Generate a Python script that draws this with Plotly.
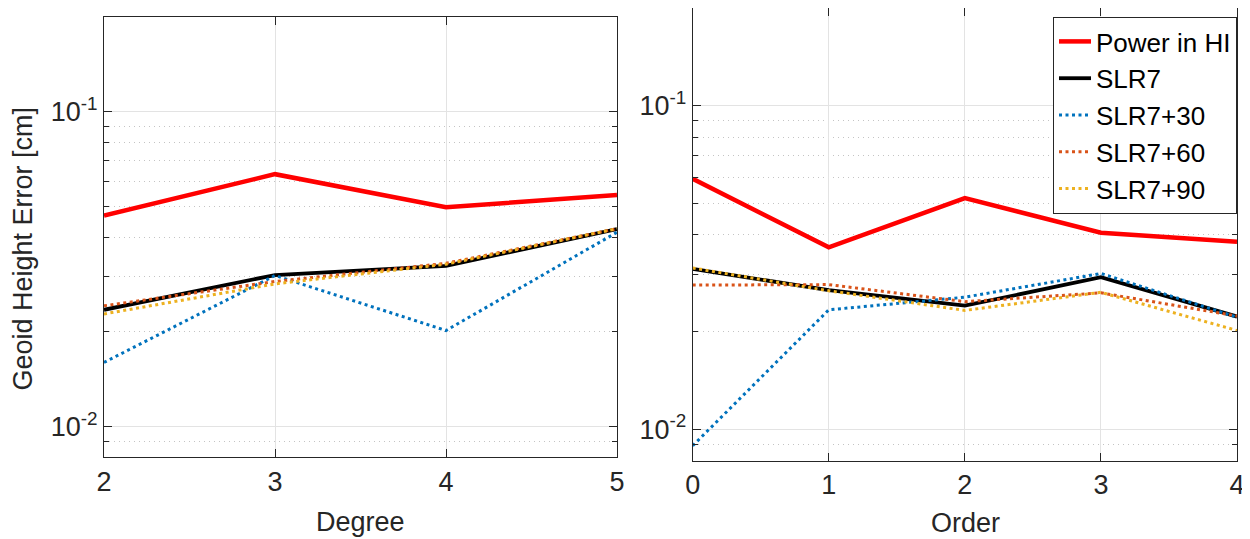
import math
import plotly.graph_objects as go

# ---- data ----
degree = [2, 3, 4, 5]
deg_power = [0.0468, 0.0633, 0.0497, 0.0544]
deg_slr7 = [0.0235, 0.0303, 0.0324, 0.0424]
deg_slr7_30 = [0.0160, 0.0302, 0.0202, 0.0414]
deg_slr7_60 = [0.0242, 0.0289, 0.0330, 0.0425]
deg_slr7_90 = [0.0228, 0.0284, 0.0328, 0.0425]

order = [0, 1, 2, 3, 4]
ord_power = [0.0594, 0.0365, 0.0518, 0.0405, 0.0380]
ord_slr7 = [0.0313, 0.0269, 0.0241, 0.0295, 0.0223]
ord_slr7_30 = [0.0089, 0.0234, 0.0256, 0.0303, 0.0222]
ord_slr7_60 = [0.0279, 0.0280, 0.0248, 0.0264, 0.0224]
ord_slr7_90 = [0.0315, 0.0268, 0.0233, 0.0265, 0.0202]

names = ["Power in HI", "SLR7", "SLR7+30", "SLR7+60", "SLR7+90"]
colors = ["#FF0000", "#000000", "#0072BD", "#D95319", "#EDB120"]
dashes = ["solid", "solid", "3px,3.5px", "3px,3.5px", "3px,3.5px"]
widths = [4.5, 3.8, 3, 3, 3]

y_major = [0.01, 0.1]
y_major_text = ["10<sup>-2</sup>", "10<sup>-1</sup>"]
y_minor = [0.008, 0.009, 0.02, 0.03, 0.04, 0.05, 0.06, 0.07, 0.08, 0.09, 0.2]
y_range = [0.008, 0.2]

FONT = "Liberation Sans, Arial, sans-serif"
FS = 27
TXT = "#262626"

# page offset (body margin) compensation: figure drawn from (8, 8)
OFF = 8
W, H = 1250 - OFF, 539 - OFF


def px(x):
    return min(1.0, max(0.0, (x - OFF) / W))


def py(y):
    return min(1.0, max(0.0, 1 - (y - OFF) / H))


fig = go.Figure()

left = [deg_power, deg_slr7, deg_slr7_30, deg_slr7_60, deg_slr7_90]
right = [ord_power, ord_slr7, ord_slr7_30, ord_slr7_60, ord_slr7_90]

for i in range(5):
    fig.add_trace(go.Scatter(x=degree, y=left[i], mode="lines", name=names[i],
                             line=dict(color=colors[i], width=widths[i], dash=dashes[i]),
                             xaxis="x", yaxis="y", showlegend=False))
for i in range(5):
    fig.add_trace(go.Scatter(x=order, y=right[i], mode="lines", name=names[i],
                             line=dict(color=colors[i], width=widths[i], dash=dashes[i]),
                             xaxis="x2", yaxis="y2", showlegend=True))

axis_common = dict(
    showline=True, linecolor=TXT, linewidth=1, mirror="ticks",
    ticks="inside", ticklen=8, tickcolor=TXT,
    showgrid=True, gridcolor="#e3e3e3", gridwidth=1,
    zeroline=False, automargin=False,
    tickfont=dict(family=FONT, size=FS, color=TXT),
)

yaxis_common = dict(axis_common)
yaxis_common.update(
    type="log", range=[math.log10(y_range[0]), math.log10(y_range[1])],
    tickmode="array", tickvals=y_major, ticktext=y_major_text,
    minor=dict(tickmode="array", tickvals=y_minor, ticks="inside", ticklen=5,
               tickcolor=TXT, showgrid=True, gridcolor="#c4c4c4",
               griddash="1px,4px", gridwidth=1),
)

fig.update_layout(
    width=W, height=H,
    margin=dict(l=0, r=0, t=0, b=0),
    paper_bgcolor="white", plot_bgcolor="white",
    font=dict(family=FONT, size=FS, color=TXT),
    xaxis=dict(axis_common, domain=[px(104), px(617)], range=[2, 5],
               tickmode="array", tickvals=degree, anchor="y"),
    yaxis=dict(yaxis_common, domain=[py(457.3), py(16.7)], anchor="x"),
    xaxis2=dict(axis_common, domain=[px(692.7), px(1237)], range=[0, 4],
                tickmode="array", tickvals=order, anchor="y2"),
    yaxis2=dict(yaxis_common, domain=[py(460.7), py(8.2)], anchor="x2"),
    legend=dict(x=px(1237), xanchor="right", y=py(17), yanchor="top",
                bgcolor="white", bordercolor=TXT, borderwidth=1,
                font=dict(family=FONT, size=26, color="black"),
                tracegroupgap=0, itemwidth=32),
    annotations=[
        dict(text="Degree", xref="paper", yref="paper", x=px(360.5), y=py(521.5),
             xanchor="center", yanchor="middle", showarrow=False,
             font=dict(family=FONT, size=FS, color=TXT)),
        dict(text="Order", xref="paper", yref="paper", x=px(965), y=py(523),
             xanchor="center", yanchor="middle", showarrow=False,
             font=dict(family=FONT, size=FS, color=TXT)),
        dict(text="Geoid Height Error [cm]", xref="paper", yref="paper",
             x=px(23), y=py(248.5), textangle=-90,
             xanchor="center", yanchor="middle", showarrow=False,
             font=dict(family=FONT, size=FS, color=TXT)),
    ],
)

fig.write_html("out.html")
